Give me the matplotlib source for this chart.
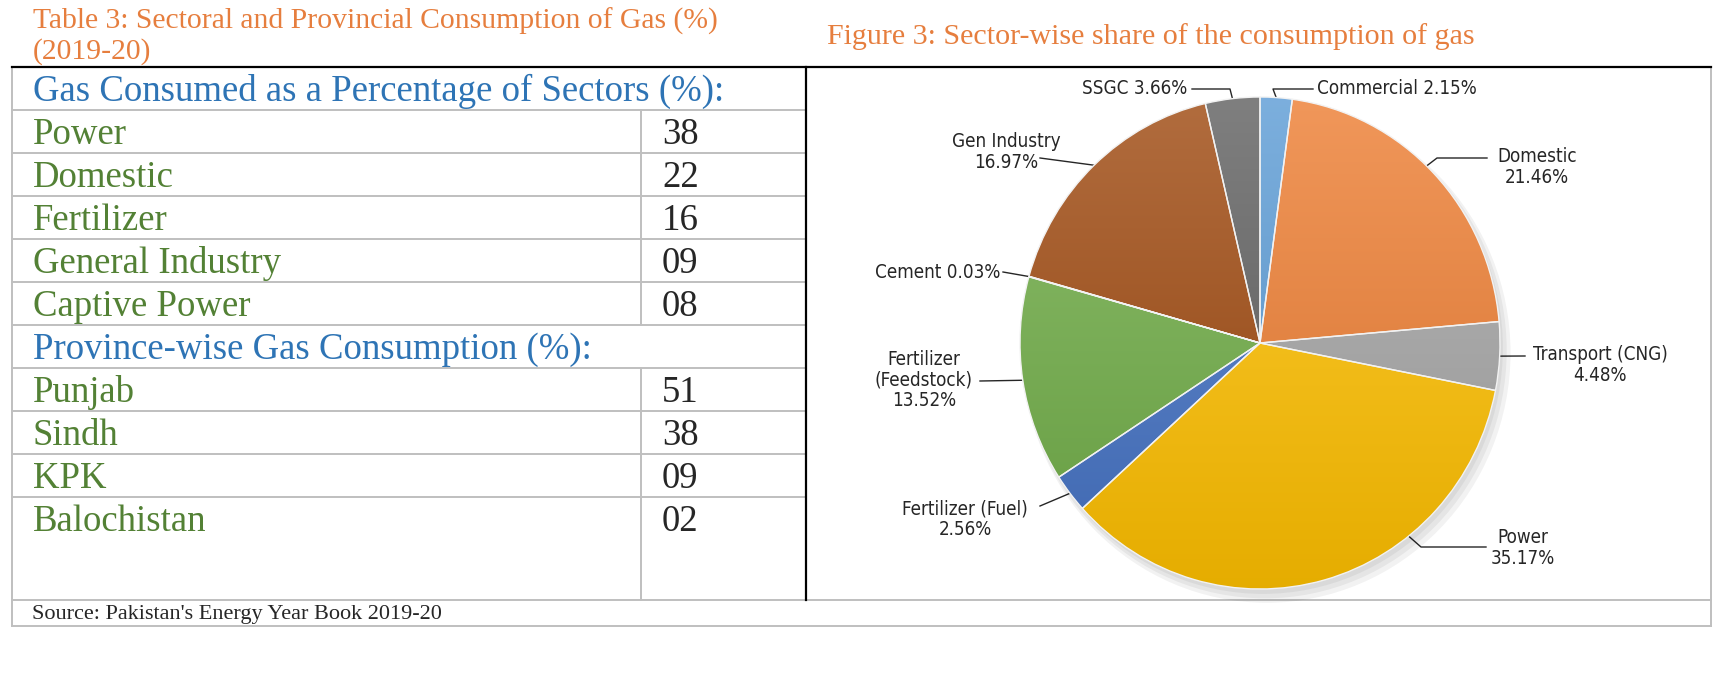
import numpy as np
import matplotlib
matplotlib.use('Agg')
import matplotlib.pyplot as plt
import matplotlib.colors as mcolors
from matplotlib.patches import Ellipse

# Tabla: sectores y provincias
sector_labels = ['Power', 'Domestic', 'Fertilizer', 'General Industry', 'Captive Power']
sector_values = [38, 22, 16, 9, 8]
province_labels = ['Punjab', 'Sindh', 'KPK', 'Balochistan']
province_values = [51, 38, 9, 2]

# Grafico de pastel
pie_labels = ['Commercial', 'Domestic', 'Transport (CNG)', 'Power', 'Fertilizer (Fuel)',
              'Fertilizer\n(Feedstock)', 'Cement', 'Gen Industry', 'SSGC']
pie_shares = [2.15, 21.46, 4.48, 35.17, 2.56, 13.52, 0.03, 16.97, 3.66]
pie_colors = ['#5B9BD5', '#ED7D31', '#A5A5A5', '#FFC000', '#4472C4',
              '#70AD47', '#5A6E8C', '#9E480E', '#5F5F5F']

W, H = 1729, 678
fig = plt.figure(figsize=(W / 100, H / 100), dpi=100)
ax = fig.add_axes([0, 0, 1, 1])
ax.set_xlim(0, W)
ax.set_ylim(H, 0)
ax.axis('off')

serif = 'Liberation Serif'
orange = '#E67E3E'
blue = '#2E74B5'
green = '#538135'
dark = '#262626'
grid = '#BFBFBF'

# titulos
ax.text(33, 29, 'Table 3: Sectoral and Provincial Consumption of Gas (%)', fontsize=21.3,
        family=serif, color=orange, va='baseline')
ax.text(33, 59, '(2019-20)', fontsize=21.3, family=serif, color=orange, va='baseline')
ax.text(827, 44, 'Figure 3: Sector-wise share of the consumption of gas', fontsize=21.6,
        family=serif, color=orange, va='baseline')

# lineas de la tabla
left, right, split, valx = 12, 1711, 806, 641
row_h = 43.0
top = 67
rows = ['h1'] + sector_labels + ['h2'] + province_labels
row_tops = [top + i * row_h for i in range(len(rows))]
src_top, bottom = 600, 626

for y in row_tops[1:]:
    ax.plot([left, split], [y, y], color=grid, lw=1.4)
ax.plot([left, right], [src_top, src_top], color=grid, lw=1.4)
ax.plot([left, right], [bottom, bottom], color=grid, lw=1.4)
ax.plot([left, left], [top, bottom], color=grid, lw=1.4)
ax.plot([right, right], [top, bottom], color=grid, lw=1.4)
ax.plot([valx, valx], [row_tops[1], row_tops[6]], color=grid, lw=1.4)
ax.plot([valx, valx], [row_tops[7], src_top], color=grid, lw=1.4)
ax.plot([left, right], [top, top], color='black', lw=1.6)
ax.plot([split, split], [top, src_top], color='black', lw=1.6)

# texto de la tabla
fs = 26.5
ax.text(33, row_tops[0] + 34, 'Gas Consumed as a Percentage of Sectors (%):', fontsize=fs,
        family=serif, color=blue, va='baseline')
for i, (lab, val) in enumerate(zip(sector_labels, sector_values)):
    y = row_tops[1 + i] + 34
    ax.text(33, y, lab, fontsize=fs, family=serif, color=green, va='baseline')
    ax.text(662, y, f'{val:02d}', fontsize=fs, family=serif, color=dark, va='baseline')
ax.text(33, row_tops[6] + 34, 'Province-wise Gas Consumption (%):', fontsize=fs,
        family=serif, color=blue, va='baseline')
for i, (lab, val) in enumerate(zip(province_labels, province_values)):
    y = row_tops[7 + i] + 34
    ax.text(33, y, lab, fontsize=fs, family=serif, color=green, va='baseline')
    ax.text(662, y, f'{val:02d}', fontsize=fs, family=serif, color=dark, va='baseline')

ax.text(32, 619, "Source: Pakistan's Energy Year Book 2019-20", fontsize=16,
        family=serif, color=dark, va='baseline')

# pastel (ligeramente eliptico como en el original)
cx, cy, rx, ry = 1260, 343, 240, 246
pax = fig.add_axes([(cx - rx) / W, (H - cy - ry) / H, 2 * rx / W, 2 * ry / H])
wedges, _ = pax.pie(pie_shares, colors=pie_colors, startangle=90, counterclock=False,
                    radius=1, wedgeprops=dict(edgecolor='#F2F2F2', linewidth=1.0))
pax.set_aspect('auto')

# sombra suave
for k in range(3):
    pax.add_patch(Ellipse((0.012 + 0.008 * k, -0.02 - 0.01 * k), 2.0 + 0.016 * k,
                          2.0 + 0.016 * k, color='black', alpha=0.05, zorder=0, lw=0,
                          clip_on=False))

# degradado vertical en cada porcion
g = np.linspace(0, 1, 256)[:, None, None]
for w, c in zip(wedges, pie_colors):
    rgb = np.array(mcolors.to_rgb(c))
    top_c = rgb + (1 - rgb) * 0.2
    bot_c = rgb * 0.9
    img = top_c[None, None, :] * (1 - g) + bot_c[None, None, :] * g
    im = pax.imshow(img, extent=(-1, 1, -1, 1), origin='upper', aspect='auto', zorder=1)
    im.set_clip_path(w)
    w.set_facecolor('none')
    w.set_zorder(2)
pax.set_xlim(-1, 1)
pax.set_ylim(-1, 1)
pax.set_aspect('auto')

# etiquetas con lineas guia
label_sep = [' ', '\n', '\n', '\n', '\n', '\n', ' ', '\n', ' ']
anchor_shift = [0, -2.4, 0, -22.7, 0, 0, 0, 0, 0]
label_pos = [(1317, 88), (1537, 167), (1600, 365), (1523, 548), (965, 519),
             (924, 380), (1000, 272), (1006, 152), (1187, 88)]
label_ha = ['left', 'center', 'center', 'center', 'center', 'center', 'right', 'center', 'right']
leader_pts = [[(1273, 89), (1313, 89)],
              [(1437, 158), (1487, 158)],
              [(1525, 356)],
              [(1421, 547), (1486, 547)],
              [(1040, 506)],
              [(980, 381)],
              [(1003, 272)],
              [(1040, 158)],
              [(1230, 89), (1192, 89)]]

cum = np.cumsum([0] + pie_shares)
to_main = ax.transData.inverted()
for i, lab in enumerate(pie_labels):
    mid = (cum[i] + cum[i + 1]) / 2 / 100 * 360 + anchor_shift[i]
    th = np.deg2rad(mid)
    p = pax.transData.transform((np.sin(th), np.cos(th)))
    ax_pt = to_main.transform(p)
    xs = [ax_pt[0]] + [q[0] for q in leader_pts[i]]
    ys = [ax_pt[1]] + [q[1] for q in leader_pts[i]]
    ax.plot(xs, ys, color=dark, lw=1.0, zorder=5)
    ax.text(label_pos[i][0], label_pos[i][1], f'{lab}{label_sep[i]}{pie_shares[i]:.2f}%',
            fontsize=13.5, family='DejaVu Sans', fontstretch='condensed', color=dark,
            ha=label_ha[i], va='center', multialignment='center', linespacing=1.1, zorder=5)

fig.savefig('out.png', dpi=100)
